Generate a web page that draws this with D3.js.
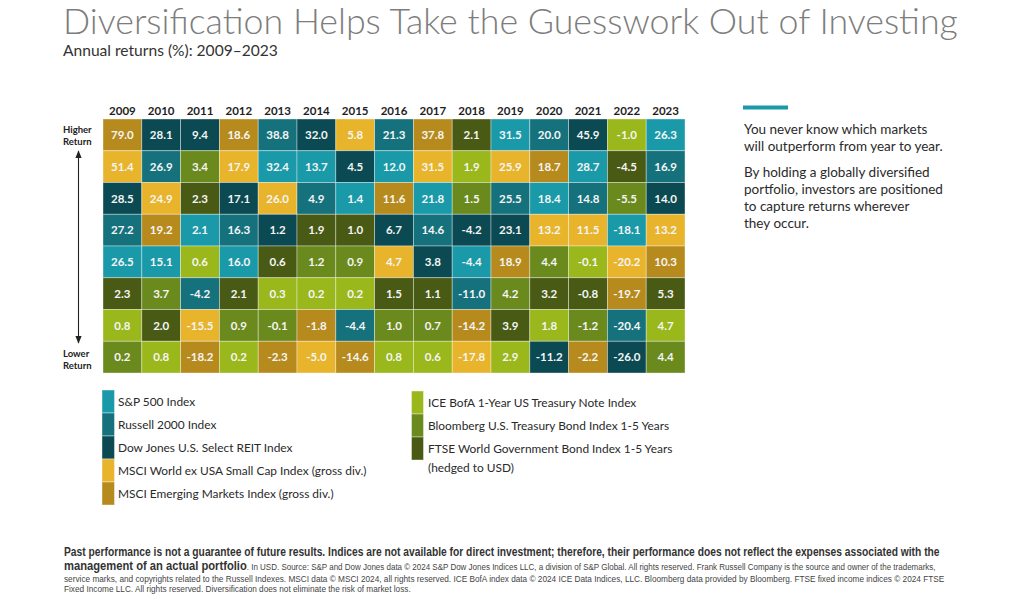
<!DOCTYPE html>
<html><head><meta charset="utf-8">
<script src="https://cdn.jsdelivr.net/npm/d3@7"></script>
<style>
body{margin:0;background:#fff;}
svg{display:block;}
</style></head>
<body>
<svg id="chart" width="1024" height="598"></svg>
<script>
// ---------- data ----------
const years = [2009,2010,2011,2012,2013,2014,2015,2016,2017,2018,2019,2020,2021,2022,2023];
const indexKeys = ["SP","R2","REIT","SC","EM","ICE","BB","FTSE"];
const indexNames = [
  "S&P 500 Index",
  "Russell 2000 Index",
  "Dow Jones U.S. Select REIT Index",
  "MSCI World ex USA Small Cap Index (gross div.)",
  "MSCI Emerging Markets Index (gross div.)",
  "ICE BofA 1-Year US Treasury Note Index",
  "Bloomberg U.S. Treasury Bond Index 1-5 Years",
  "FTSE World Government Bond Index 1-5 Years"
];
const indexColors = ["#1a9aa9","#15727d","#0b4a52","#e8b42c","#b78a1d","#9ab71b","#6b8a1e","#495a15"];
// ranked (highest to lowest) per year
const rankedIndex = [
  ["EM","SC","REIT","R2","SP","FTSE","ICE","BB"],      // 2009
  ["REIT","R2","SC","EM","SP","BB","FTSE","ICE"],      // 2010
  ["REIT","BB","FTSE","SP","ICE","R2","SC","EM"],      // 2011
  ["EM","SC","REIT","R2","SP","FTSE","BB","ICE"],      // 2012
  ["R2","SP","SC","REIT","FTSE","ICE","BB","EM"],      // 2013
  ["REIT","SP","R2","FTSE","BB","ICE","EM","SC"],      // 2014
  ["SC","REIT","SP","FTSE","BB","ICE","R2","EM"],      // 2015
  ["R2","SP","EM","REIT","SC","FTSE","BB","ICE"],      // 2016
  ["EM","SC","SP","R2","REIT","FTSE","BB","ICE"],      // 2017
  ["FTSE","ICE","BB","REIT","SP","R2","EM","SC"],      // 2018
  ["SP","SC","R2","REIT","EM","BB","FTSE","ICE"],      // 2019
  ["R2","EM","SP","SC","BB","FTSE","ICE","REIT"],      // 2020
  ["REIT","SP","R2","SC","ICE","FTSE","BB","EM"],      // 2021
  ["ICE","FTSE","BB","SP","SC","EM","R2","REIT"],      // 2022
  ["SP","R2","REIT","SC","EM","FTSE","ICE","BB"]       // 2023
];
const rankedReturns = [
  [79.0,51.4,28.5,27.2,26.5,2.3,0.8,0.2],
  [28.1,26.9,24.9,19.2,15.1,3.7,2.0,0.8],
  [9.4,3.4,2.3,2.1,0.6,-4.2,-15.5,-18.2],
  [18.6,17.9,17.1,16.3,16.0,2.1,0.9,0.2],
  [38.8,32.4,26.0,1.2,0.6,0.3,-0.1,-2.3],
  [32.0,13.7,4.9,1.9,1.2,0.2,-1.8,-5.0],
  [5.8,4.5,1.4,1.0,0.9,0.2,-4.4,-14.6],
  [21.3,12.0,11.6,6.7,4.7,1.5,1.0,0.8],
  [37.8,31.5,21.8,14.6,3.8,1.1,0.7,0.6],
  [2.1,1.9,1.5,-4.2,-4.4,-11.0,-14.2,-17.8],
  [31.5,25.9,25.5,23.1,18.9,4.2,3.9,2.9],
  [20.0,18.7,18.4,13.2,4.4,3.2,1.8,-11.2],
  [45.9,28.7,14.8,11.5,-0.1,-0.8,-1.2,-2.2],
  [-1.0,-4.5,-5.5,-18.1,-20.2,-19.7,-20.4,-26.0],
  [26.3,16.9,14.0,13.2,10.3,5.3,4.7,4.4]
];
const ranks = [0,1,2,3,4,5,6,7];

// ---------- drawing ----------
const svg = d3.select("#chart");
const sans = "Lato, 'Open Sans', sans-serif";

function fitWidth(sel, target){
  const len = sel.node().getComputedTextLength();
  const fs = parseFloat(sel.attr("font-size"));
  sel.attr("font-size", fs*target/len);
}
function squeeze(sel, x, y, target){
  const len = sel.node().getComputedTextLength();
  sel.attr("transform", `translate(${x},${y}) scale(${target/len},1)`);
}

// title
const title = svg.append("text").attr("x",63).attr("y",34)
  .attr("font-family",sans).attr("font-weight",300).attr("font-size",34)
  .attr("fill","#7d7d7d").text("Diversification Helps Take the Guesswork Out of Investing");
fitWidth(title, 895);
const sub = svg.append("text").attr("x",63).attr("y",56)
  .attr("font-family",sans).attr("font-size",15).attr("fill","#333")
  .text("Annual returns (%): 2009\u20132023");
fitWidth(sub, 215);

// scales
const x = d3.scaleBand().domain(years).range([103,685]);
const y = d3.scaleBand().domain(ranks).range([119,373]);
const color = d3.scaleOrdinal().domain(indexKeys).range(indexColors);

// cells
const cells = [];
years.forEach((yr,i)=>ranks.forEach(r=>cells.push({year:yr,rank:r,key:rankedIndex[i][r],val:rankedReturns[i][r]})));
const g = svg.append("g");
g.selectAll("rect.cell").data(cells).join("rect").attr("class","cell")
  .attr("x",d=>x(d.year)).attr("y",d=>y(d.rank))
  .attr("width",x.bandwidth()).attr("height",y.bandwidth())
  .attr("fill",d=>color(d.key)).attr("stroke","rgba(255,255,255,0.45)").attr("stroke-width",0.8);
g.selectAll("text.val").data(cells).join("text").attr("class","val")
  .attr("x",d=>x(d.year)+x.bandwidth()/2).attr("y",d=>y(d.rank)+y.bandwidth()/2)
  .attr("dy","0.36em").attr("text-anchor","middle")
  .attr("font-family",sans).attr("font-weight",700).attr("font-size",11.5)
  .attr("fill","#f5f5f5").text(d=>d.val.toFixed(1));

// year axis
const ax = svg.append("g").attr("transform","translate(0,115)")
  .call(d3.axisTop(x).tickSize(0).tickPadding(0));
ax.select(".domain").remove();
ax.selectAll("text").attr("font-family",sans).attr("font-weight",700)
  .attr("font-size",11.5).attr("fill","#1e1e1e");

// Higher / Lower labels
const lab = svg.append("g").attr("font-family",sans).attr("font-weight",700)
  .attr("font-size",9.5).attr("fill","#222");
lab.append("text").attr("x",63).attr("y",133).text("Higher");
lab.append("text").attr("x",63).attr("y",145).text("Return");
lab.append("text").attr("x",63).attr("y",357).text("Lower");
lab.append("text").attr("x",63).attr("y",369).text("Return");
const defs = svg.append("defs");
defs.append("marker").attr("id","ah").attr("viewBox","0 0 10 10").attr("refX",9).attr("refY",5)
  .attr("markerWidth",7).attr("markerHeight",7).attr("orient","auto-start-reverse")
  .append("path").attr("d","M0,1 L10,5 L0,9 z").attr("fill","#222");
svg.append("line").attr("x1",78.5).attr("x2",78.5).attr("y1",151).attr("y2",343)
  .attr("stroke","#222").attr("stroke-width",1.1)
  .attr("marker-start","url(#ah)").attr("marker-end","url(#ah)");

// right commentary
svg.append("rect").attr("x",743).attr("y",105.5).attr("width",45).attr("height",4).attr("fill","#1a9aa9");
const comm = ["You never know which markets","will outperform from year to year.",
  "By holding a globally diversified","portfolio, investors are positioned",
  "to capture returns wherever","they occur."];
const commY = [134,151,177,194,211,228];
const ct = svg.append("g").attr("font-family",sans).attr("font-size",13.5).attr("fill","#2a2a2a");
comm.forEach((t,i)=>ct.append("text").attr("x",744).attr("y",commY[i]).text(t));

// legend
const legLeft = [0,1,2,3,4], legRight=[5,6,7];
const legG = svg.append("g").attr("font-family",sans).attr("font-size",11.9).attr("fill","#2a2a2a");
legLeft.forEach((k,i)=>{
  legG.append("rect").attr("x",102).attr("y",390+i*23).attr("width",12.5).attr("height",23)
    .attr("fill",indexColors[k]).attr("stroke","rgba(255,255,255,0.5)").attr("stroke-width",0.8);
  legG.append("text").attr("x",118).attr("y",390+i*23+15.5).text(indexNames[k]);
});
legRight.forEach((k,i)=>{
  legG.append("rect").attr("x",411.5).attr("y",391+i*23).attr("width",12).attr("height",23)
    .attr("fill",indexColors[k]).attr("stroke","rgba(255,255,255,0.5)").attr("stroke-width",0.8);
  legG.append("text").attr("x",428).attr("y",391+i*23+15.5).text(indexNames[k]);
});
legG.append("text").attr("x",428).attr("y",391+3*23+12).text("(hedged to USD)");

// footer
const foot = "Liberation Sans, Arial, sans-serif";
const f1 = svg.append("text").attr("font-family",foot).attr("font-weight",700).attr("font-size",12.6).attr("fill","#333")
  .text("Past performance is not a guarantee of future results.  Indices are not available for direct investment; therefore, their performance does not reflect the expenses associated with the");
squeeze(f1,64,556,876);
const f2 = svg.append("text").attr("font-family",foot).attr("fill","#444");
f2.append("tspan").attr("font-weight",700).attr("font-size",12.6).attr("fill","#333").text("management of an actual portfolio");
f2.append("tspan").attr("font-size",9).text(". In USD. Source: S&P and Dow Jones data \u00a9 2024 S&P Dow Jones Indices LLC, a division of S&P Global. All rights reserved. Frank Russell Company is the source and owner of the trademarks,");
squeeze(f2,64,569.5,873);
const f3 = svg.append("text").attr("font-family",foot).attr("font-size",9).attr("fill","#444")
  .text("service marks, and copyrights related to the Russell Indexes. MSCI data \u00a9 MSCI 2024, all rights reserved. ICE BofA index data \u00a9 2024 ICE Data Indices, LLC. Bloomberg data provided by Bloomberg. FTSE fixed income indices \u00a9 2024 FTSE");
squeeze(f3,64,582,881);
const f4 = svg.append("text").attr("font-family",foot).attr("font-size",9).attr("fill","#444")
  .text("Fixed Income LLC. All rights reserved. Diversification does not eliminate the risk of market loss.");
squeeze(f4,64,592,347);
</script>
</body></html>
